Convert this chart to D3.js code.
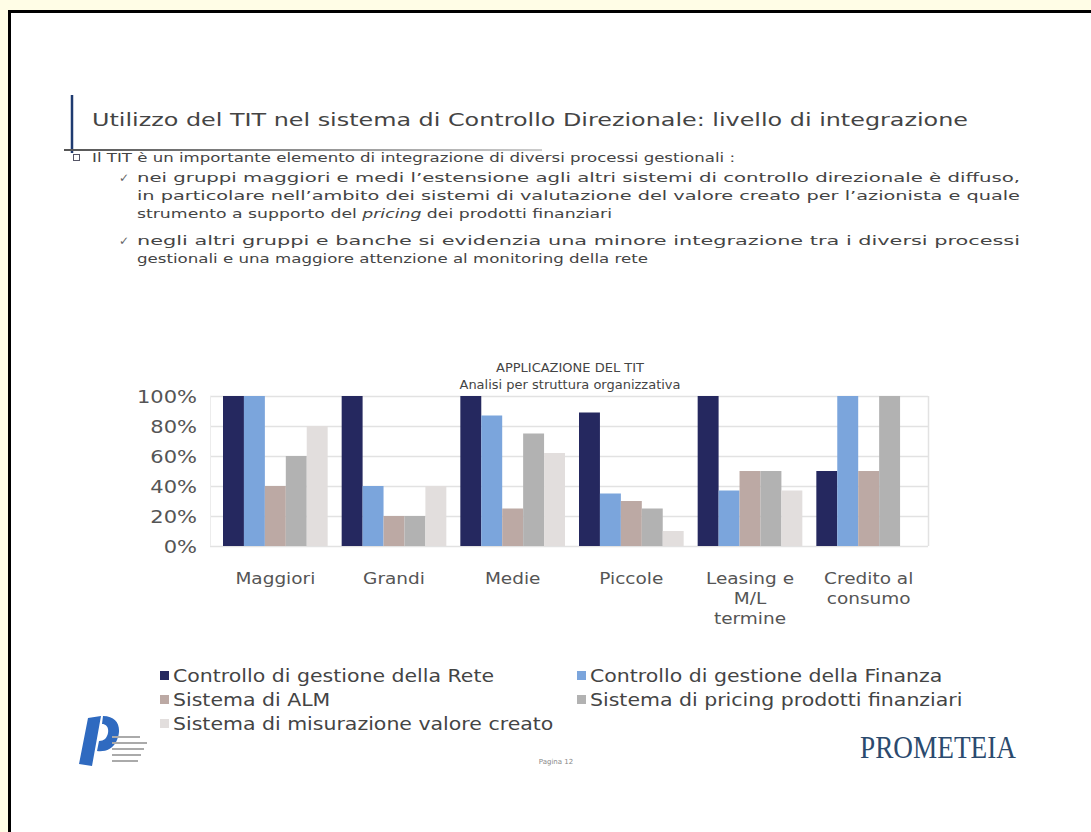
<!DOCTYPE html>
<html>
<head>
<meta charset="utf-8">
<script src="https://cdn.jsdelivr.net/npm/d3@7"></script>
<style>
  html, body { margin: 0; padding: 0; background: #fffde6; }
  svg { display: block; }
</style>
</head>
<body>
<svg width="1091" height="832" font-family="DejaVu Sans, Verdana, sans-serif"></svg>
<script>
var svg = d3.select("svg");

// chart data
var categories = [["Maggiori"], ["Grandi"], ["Medie"], ["Piccole"], ["Leasing e", "M/L", "termine"], ["Credito al", "consumo"]];
var seriesNames = ["Controllo di gestione della Rete", "Controllo di gestione della Finanza", "Sistema di ALM", "Sistema di pricing prodotti finanziari", "Sistema di misurazione valore creato"];
var seriesColors = ["#25285f", "#7ba5dc", "#bca9a4", "#b2b2b2", "#e2dedd"];
var rete       = [1.00, 1.00, 1.00, 0.89, 1.00, 0.50];
var finanza    = [1.00, 0.40, 0.87, 0.35, 0.37, 1.00];
var alm        = [0.40, 0.20, 0.25, 0.30, 0.50, 0.50];
var pricing    = [0.60, 0.20, 0.75, 0.25, 0.50, 1.00];
var misurazione = [0.80, 0.40, 0.62, 0.10, 0.37, 0.00];
var yTicks = [0, 0.2, 0.4, 0.6, 0.8, 1];

var seriesValues = [rete, finanza, alm, pricing, misurazione];

// stretch text horizontally, the slide font is wider than DejaVu
function widen(sel, k) {
    sel.each(function () {
        var w = this.getComputedTextLength();
        d3.select(this).attr("textLength", w * k).attr("lengthAdjust", "spacingAndGlyphs");
    });
}

// slide frame
svg.append("rect").attr("x", 9.5).attr("y", 11.5).attr("width", 1100).attr("height", 840)
    .attr("fill", "#fff").attr("stroke", "#000").attr("stroke-width", 3);

// slide heading
svg.append("line").attr("x1", 72).attr("x2", 72).attr("y1", 95).attr("y2", 153)
    .attr("stroke", "#1f3b70").attr("stroke-width", 2.5);
var grad = svg.append("defs").append("linearGradient").attr("id", "ul");
grad.append("stop").attr("offset", "0%").attr("stop-color", "#555");
grad.append("stop").attr("offset", "100%").attr("stop-color", "#ccc");
svg.append("rect").attr("x", 64).attr("y", 149).attr("width", 478).attr("height", 2).attr("fill", "url(#ul)");

svg.append("text").attr("x", 92).attr("y", 126)
    .attr("font-size", 18.5).attr("fill", "#444")
    .attr("textLength", 876).attr("lengthAdjust", "spacingAndGlyphs")
    .text("Utilizzo del TIT nel sistema di Controllo Direzionale: livello di integrazione");

// bullets
svg.append("rect").attr("x", 73.5).attr("y", 154.5).attr("width", 6).attr("height", 6)
    .attr("fill", "none").attr("stroke", "#556").attr("stroke-width", 1);
var body = [
    {x: 92, y: 162, t: "Il TIT è un importante elemento di integrazione di diversi processi gestionali :", w: 643},
    {x: 137, y: 182, t: "nei gruppi maggiori e medi l’estensione agli altri sistemi di controllo direzionale è diffuso,", w: 883, check: true},
    {x: 137, y: 200, t: "in particolare nell’ambito dei sistemi di valutazione del valore creato per l’azionista e quale", w: 883},
    {x: 137, y: 218, t: null, w: 475},
    {x: 137, y: 245, t: "negli altri gruppi e banche si evidenzia una minore integrazione tra i diversi processi", w: 883, check: true},
    {x: 137, y: 263, t: "gestionali e una maggiore attenzione al monitoring della rete", w: 511}
];
body.forEach(function (d) {
    if (d.check) {
        svg.append("text").attr("x", 119).attr("y", d.y).attr("font-size", 12).attr("fill", "#666").text("✓");
    }
    var t = svg.append("text").attr("x", d.x).attr("y", d.y)
        .attr("font-size", 13).attr("fill", "#444")
        .attr("textLength", d.w).attr("lengthAdjust", "spacingAndGlyphs");
    if (d.t) {
        t.text(d.t);
    } else {
        t.append("tspan").text("strumento a supporto del ");
        t.append("tspan").attr("font-style", "italic").text("pricing");
        t.append("tspan").text(" dei prodotti finanziari");
    }
});

// chart
var plotLeft = 216, plotRight = 928, plotTop = 396, plotBottom = 546;

svg.append("text").attr("x", 570).attr("y", 372).attr("text-anchor", "middle")
    .attr("font-size", 13).attr("fill", "#444").text("APPLICAZIONE DEL TIT");
svg.append("text").attr("x", 570).attr("y", 389).attr("text-anchor", "middle")
    .attr("font-size", 13).attr("fill", "#444").text("Analisi per struttura organizzativa");

var x0 = d3.scaleBand().domain(d3.range(categories.length)).range([plotLeft, plotRight])
    .paddingInner(0.118).paddingOuter(0.059);
var x1 = d3.scaleBand().domain(d3.range(seriesNames.length)).range([0, x0.bandwidth()]);
var y = d3.scaleLinear().domain([0, 1]).range([plotBottom, plotTop]);

var g = svg.append("g");
g.selectAll("line.grid").data(yTicks).enter().append("line")
    .attr("class", "grid")
    .attr("x1", 210).attr("x2", plotRight)
    .attr("y1", function (d) { return y(d) + 0.5; })
    .attr("y2", function (d) { return y(d) + 0.5; })
    .attr("stroke", "#e2e2e2").attr("stroke-width", 1.5);
g.append("line").attr("x1", plotRight + 0.5).attr("x2", plotRight + 0.5).attr("y1", plotTop).attr("y2", plotBottom)
    .attr("stroke", "#e2e2e2").attr("stroke-width", 1.5);
g.append("line").attr("x1", 210.5).attr("x2", 210.5).attr("y1", plotTop).attr("y2", plotBottom)
    .attr("stroke", "#ececec").attr("stroke-width", 1);

var yAxis = d3.axisLeft(y).tickValues(yTicks).tickFormat(d3.format(".0%")).tickSize(0).tickPadding(13);
var ya = svg.append("g").attr("transform", "translate(210,0)").call(yAxis);
ya.select(".domain").remove();
ya.attr("font-family", null);
ya.selectAll("text").attr("font-size", 17.5).attr("fill", "#555").attr("dy", "0.36em").call(widen, 1.2);

var groups = g.selectAll("g.cat").data(categories).enter().append("g")
    .attr("class", "cat")
    .attr("transform", function (d, i) { return "translate(" + x0(i) + ",0)"; });

groups.selectAll("rect").data(function (d, i) {
        return seriesValues.map(function (s, k) { return {k: k, v: s[i]}; });
    }).enter().append("rect")
    .attr("x", function (d) { return x1(d.k); })
    .attr("width", x1.bandwidth())
    .attr("y", function (d) { return y(d.v); })
    .attr("height", function (d) { return plotBottom - y(d.v); })
    .attr("fill", function (d) { return seriesColors[d.k]; });

groups.each(function (d, i) {
    var cx = x0.bandwidth() / 2;
    d.forEach(function (line, j) {
        d3.select(this).append("text")
            .attr("x", cx).attr("y", 584 + j * 20)
            .attr("text-anchor", "middle").attr("font-size", 16.5).attr("fill", "#555")
            .text(line).call(widen, 1.12);
    }, this);
});

// legend
var legendPos = [[160, 676], [577, 676], [160, 700], [577, 700], [160, 724]];
var legend = svg.selectAll("g.legend").data(seriesNames).enter().append("g")
    .attr("class", "legend")
    .attr("transform", function (d, i) { return "translate(" + legendPos[i][0] + "," + legendPos[i][1] + ")"; });
legend.append("rect").attr("x", 0).attr("y", -5).attr("width", 9).attr("height", 9)
    .attr("fill", function (d, i) { return seriesColors[i]; });
legend.append("text").attr("x", 13).attr("y", 6)
    .attr("font-size", 17.5).attr("fill", "#444").text(function (d) { return d; })
    .call(widen, 1.17);

// footer
svg.append("path")
    .attr("d", "M88,718 L101,716 L92,766 L79,764 Z M103,716 C118,716 122,728 117,740 C113,750 104,752 97,751 L99,741 C104,741 107,738 108,733 C109,727 106,724 102,724 Z")
    .attr("fill", "#2f6ac0");
[736, 742, 748, 754, 760].forEach(function (yy, i) {
    svg.append("rect").attr("x", 112).attr("y", yy).attr("width", i === 0 ? 28 : 38 - i * 3).attr("height", 2).attr("fill", "#aaa");
});
svg.append("text").attr("x", 556).attr("y", 764).attr("text-anchor", "middle")
    .attr("font-size", 7).attr("fill", "#888").text("Pagina 12");
svg.append("text").attr("x", 860).attr("y", 758)
    .attr("font-family", "Liberation Serif, serif").attr("font-size", 32).attr("fill", "#2b4a6e")
    .attr("textLength", 156).attr("lengthAdjust", "spacingAndGlyphs")
    .text("PROMETEIA");
</script>
</body>
</html>
